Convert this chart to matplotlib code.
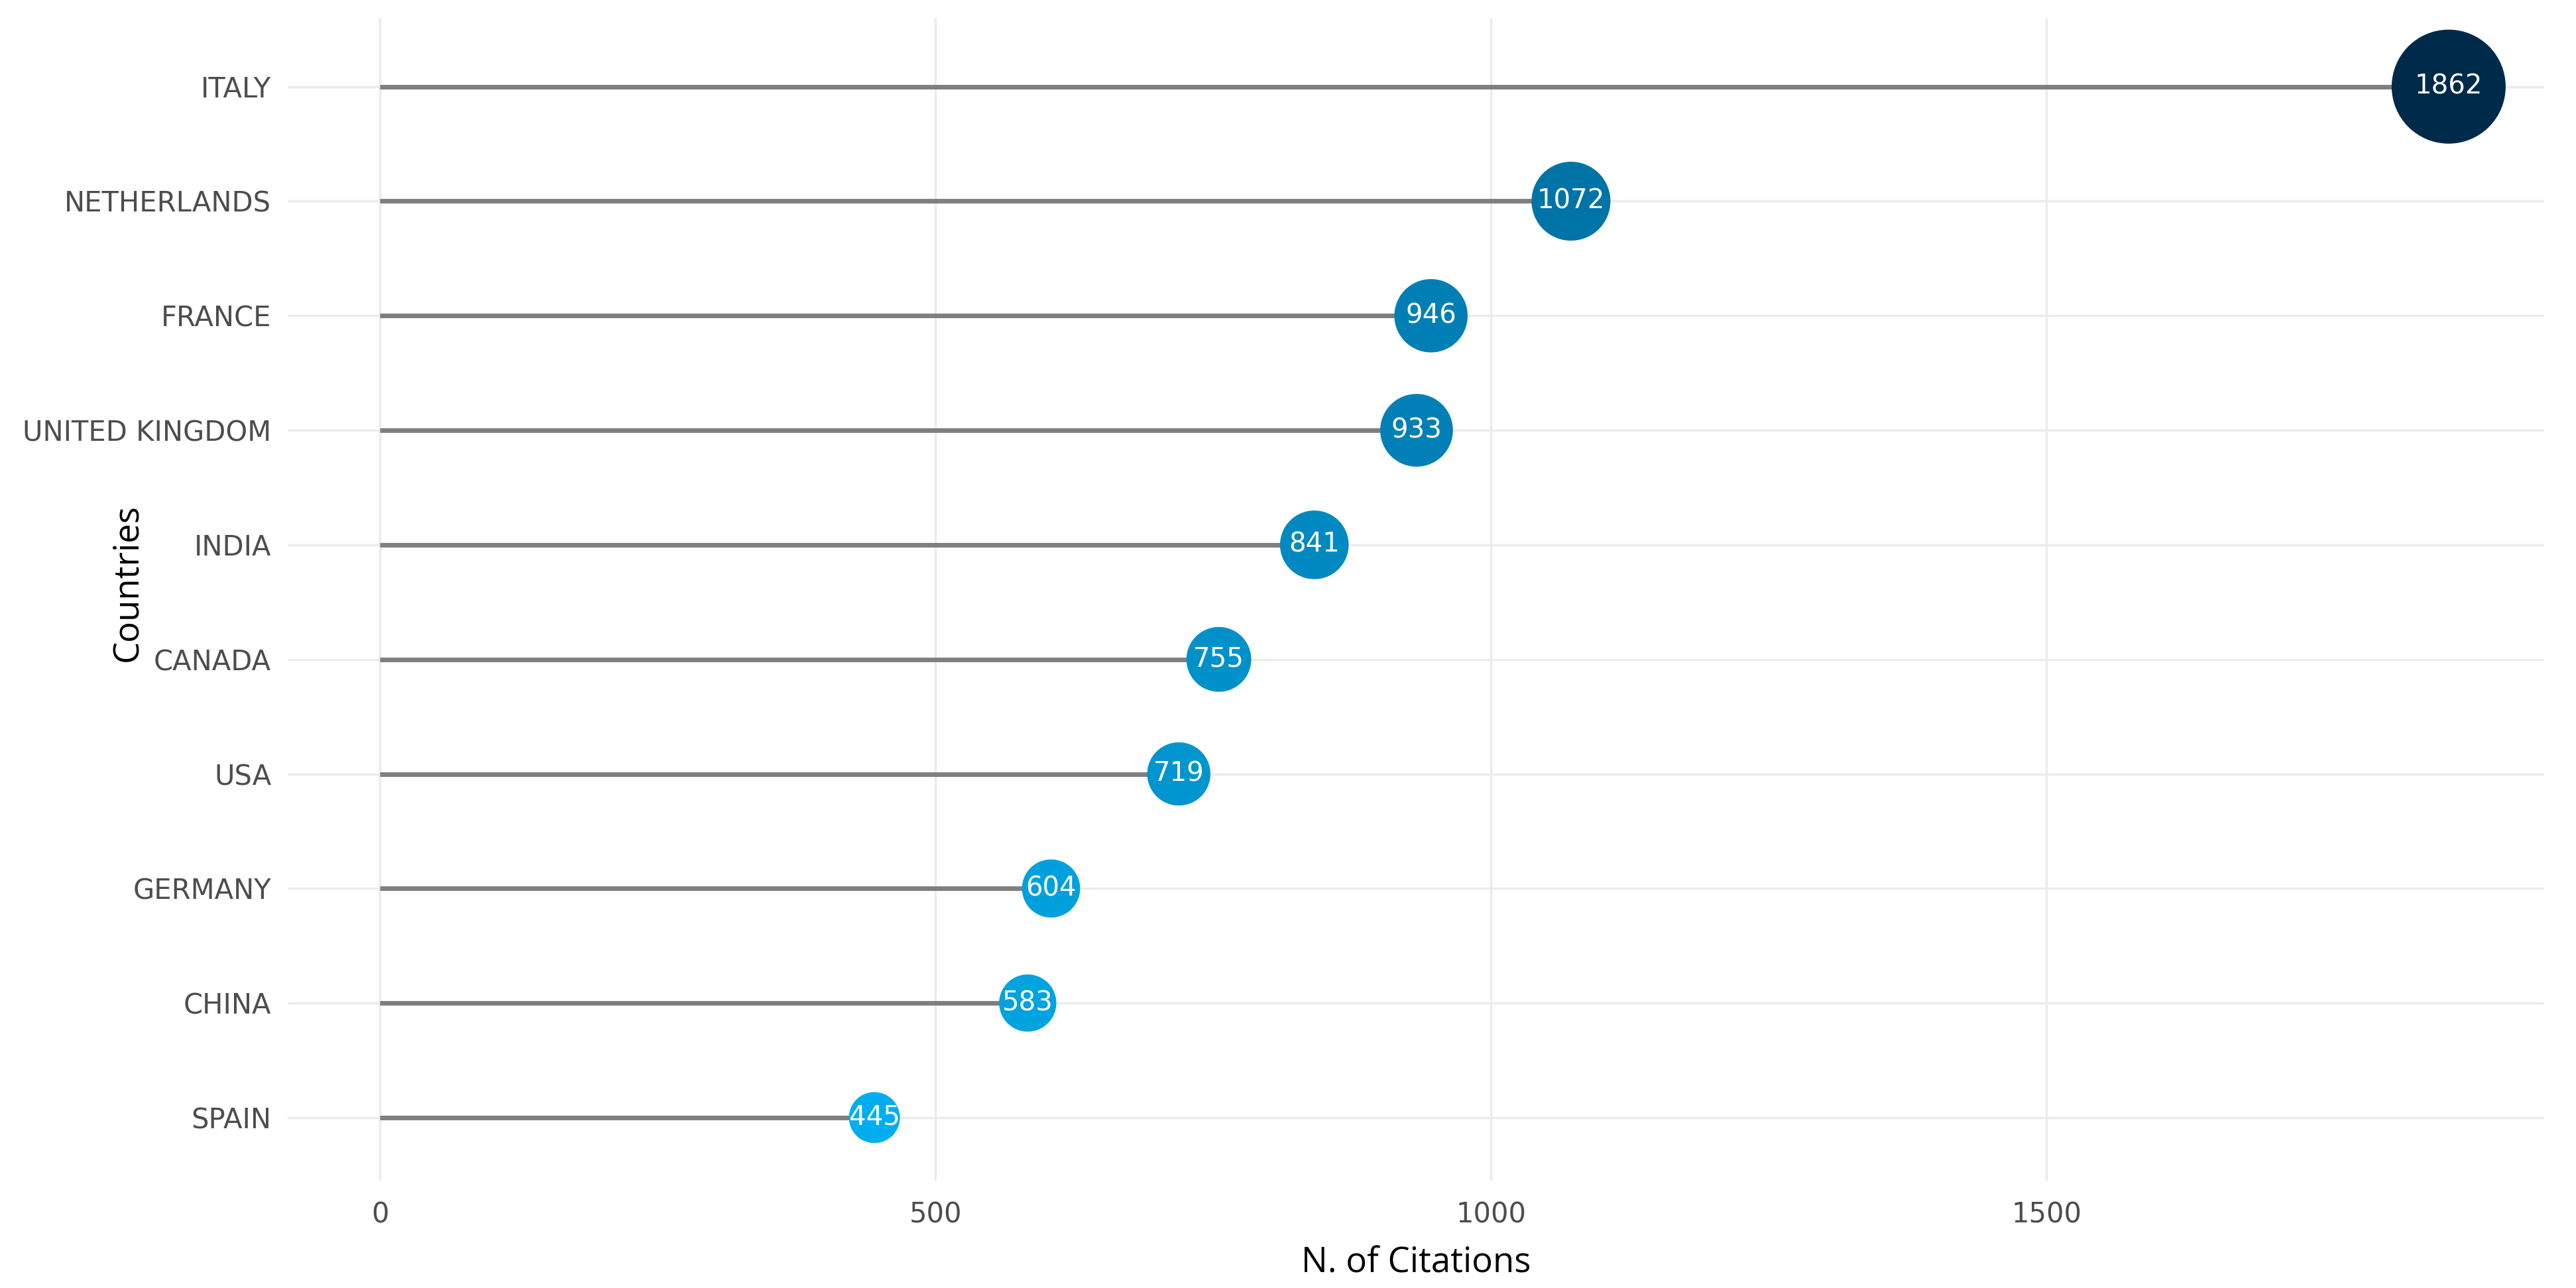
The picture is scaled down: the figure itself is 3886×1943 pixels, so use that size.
import numpy as np
import matplotlib
matplotlib.use('Agg')
from matplotlib import pyplot as plt
from matplotlib.colors import LinearSegmentedColormap

countries = ['SPAIN', 'CHINA', 'GERMANY', 'USA', 'CANADA', 'INDIA',
             'UNITED KINGDOM', 'FRANCE', 'NETHERLANDS', 'ITALY']
citations = [445, 583, 604, 719, 755, 841, 933, 946, 1072, 1862]
x_ticks = [0, 500, 1000, 1500]

DPI = 100
fig = plt.figure(figsize=(3887 / DPI, 1943 / DPI), dpi=DPI)
ax = fig.add_axes([0.1117, 0.0834, 0.8757, 0.9027])

vals = np.array(citations, dtype=float)
y = np.arange(len(countries))

# colour gradient from light blue (low) to navy (high)
cmap = LinearSegmentedColormap.from_list('cit', ['#00AEEF', '#002A4A'])
norm = plt.Normalize(vals.min(), vals.max())
colors = cmap(norm(vals))

# bubble diameter grows linearly with citations (pixels -> points)
d_px = 77 + (vals - vals.min()) * 95 / (vals.max() - vals.min())
sizes = (d_px * 72 / DPI) ** 2

ax.hlines(y, 0, vals, color='#7f7f7f', linewidth=5, zorder=2)
ax.scatter(vals, y, s=sizes, c=colors, zorder=3, linewidths=0)

for xi, yi in zip(vals, y):
    ax.text(xi, yi, '%d' % xi, color='white', fontsize=29,
            ha='center', va='center', zorder=4)

ax.set_xlim(-83, 1948)
ax.set_ylim(-0.55, 9.6)
ax.set_yticks(y)
ax.set_yticklabels(countries)
ax.set_xticks(x_ticks)

ax.grid(True, color='#ebebeb', linewidth=2.5, zorder=0)
ax.set_axisbelow(True)
for sp in ax.spines.values():
    sp.set_visible(False)
ax.tick_params(length=0, labelsize=30, labelcolor='#4d4d4d')
ax.tick_params(axis='y', pad=18)
ax.tick_params(axis='x', pad=22)

ax.set_xlabel('N. of Citations', fontsize=38, family='Open Sans', labelpad=18)
ax.set_ylabel('Countries', fontsize=38, family='Open Sans')
# label sits inside the tick-label column, like the original
ax.yaxis.set_label_coords(-0.063, 0.514)

fig.savefig('out.png', dpi=DPI, facecolor='white')
